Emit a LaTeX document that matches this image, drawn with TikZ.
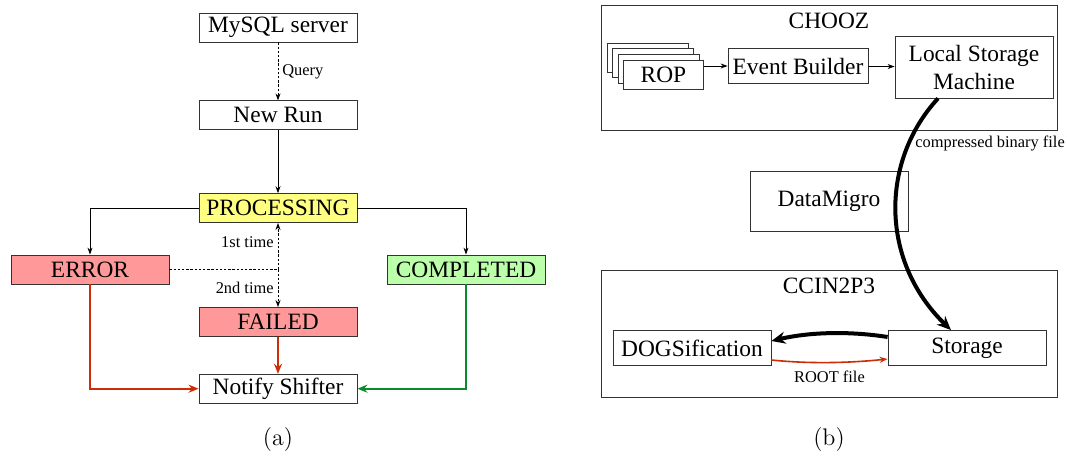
\documentclass[tikz,border=0pt]{standalone}
\usepackage{fontspec}
\newfontfamily\timesfont{Liberation Serif}
\usepackage{xcolor}
\usetikzlibrary{arrows.meta,positioning,calc}

\definecolor{procyellow}{RGB}{255,255,128}
\definecolor{failred}{RGB}{255,153,153}
\definecolor{donegreen}{RGB}{187,255,170}
\definecolor{arrred}{RGB}{204,45,5}
\definecolor{arrgreen}{RGB}{10,140,45}

\begin{document}
\begin{tikzpicture}[x=0.5pt,y=-0.5pt,
  state/.style={draw=black!80,fill=white,minimum width=79pt,minimum height=14.5pt,
                inner sep=1pt,font=\timesfont\fontsize{11.7}{14}\selectfont},
  frame/.style={draw=black!80,minimum width=228pt,minimum height=63pt,inner sep=0pt},
  lbl/.style={font=\timesfont\fontsize{8.2}{10}\selectfont,inner sep=2pt},
  big/.style={font=\timesfont\fontsize{11.7}{14}\selectfont},
  dots/.style={dash pattern=on 1.2pt off 0.9pt},
  tip/.style={-{Stealth[length=3.5pt,width=2.5pt]}},
  redline/.style={draw=arrred,line width=1pt,-{Stealth[length=5pt,width=4pt]}},
  greenline/.style={draw=arrgreen,line width=1pt,-{Stealth[length=5pt,width=4pt]}},
  fat/.style={line width=2pt,-{Stealth[length=7pt,width=6pt]}}]
  \useasboundingbox (0,0) rectangle (1067,460);

  % (a) run states
  \node[state] (mysql) at (278,27.5) {MySQL server};
  \node[state,below=29pt of mysql] (newrun) {New Run};
  \node[state,fill=procyellow,below=31.5pt of newrun] (proc) {PROCESSING};
  \node[state,fill=failred,below=42pt of proc] (failed) {FAILED};
  \node[state,below=18.5pt of failed] (notify) {Notify Shifter};
  \node[state,fill=failred] (error) at (90,269.5) {ERROR};
  \node[state,fill=donegreen] (completed) at (466,269.5) {COMPLETED};
  \coordinate (junc) at (proc |- error);

  \draw[dots,tip] (mysql) -- node[lbl,right] {Query} (newrun);
  \draw[tip] (newrun) -- (proc);
  \draw[tip] (proc.west) -| (error.north);
  \draw[tip] (proc.east) -| (completed.north);
  \draw[dots] (error.east) -- (junc);
  \draw[dots,tip] (junc) -- node[lbl,left,yshift=2pt] {1st time} (proc.south);
  \draw[dots,tip] (junc) -- node[lbl,left] {2nd time} (failed.north);
  \draw[redline] (error.south) |- (notify.west);
  \draw[redline] (failed) -- (notify);
  \draw[greenline] (completed.south) |- (notify.east);

  % (b) data flow
  \node[frame,minimum height=62.5pt] (chooz) at (829,67.5) {};
  \node[big] (choozlbl) at (829,21) {CHOOZ};
  \node[state,minimum width=40.5pt] (rop1) at (647.5,57.5) {};
  \node[state,minimum width=40.5pt] (rop2) at (653,63) {};
  \node[state,minimum width=40.5pt] (rop3) at (658.5,68.5) {};
  \node[state,minimum width=40pt] (rop) at (663.5,74.5) {ROP};
  \node[state,minimum width=70pt,minimum height=17.5pt] (eb) at (798,66) {Event Builder};
  \node[state,minimum height=31pt,align=center] (lsm) at (974,67) {Local Storage\\Machine};
  \draw[tip] (rop.east |- eb.west) -- (eb.west);
  \draw[tip] (eb) -- (lsm);

  \node[state,minimum height=30pt] (migro) at (829,201) {DataMigro};

  \node[frame,minimum height=63.5pt] (ccin) at (829,333.5) {};
  \node[big] (ccinlbl) at (829,286) {CCIN2P3};
  \node[state,minimum height=17.5pt] (dogs) at (692,348) {DOGSification};
  \node[state,minimum height=17.5pt] (stor) at (967,348) {Storage};

  \draw[fat] ([xshift=-18pt]lsm.south) .. controls +(-58,63) and +(-71,-69) .. ([xshift=-8pt]stor.north);
  \node[lbl,anchor=west] (cbf) at (911,143) {compressed binary file};
  \draw[fat] ([yshift=5.5pt]stor.west) .. controls +(-38,-6) and +(38,-9) .. ([yshift=3.5pt]dogs.east);
  \draw[draw=arrred,line width=0.8pt,-{Stealth[length=4pt,width=3pt]}]
    ([yshift=-6pt]dogs.east) .. controls +(38,4) and +(-38,4) .. node[lbl,below,yshift=-2pt] {ROOT file} ([yshift=-5.5pt]stor.west);

  \node[font=\fontsize{12}{14}\selectfont] (capa) at (278,440) {(a)};
  \node[font=\fontsize{12}{14}\selectfont] (capb) at (829,440) {(b)};
\end{tikzpicture}
\end{document}
